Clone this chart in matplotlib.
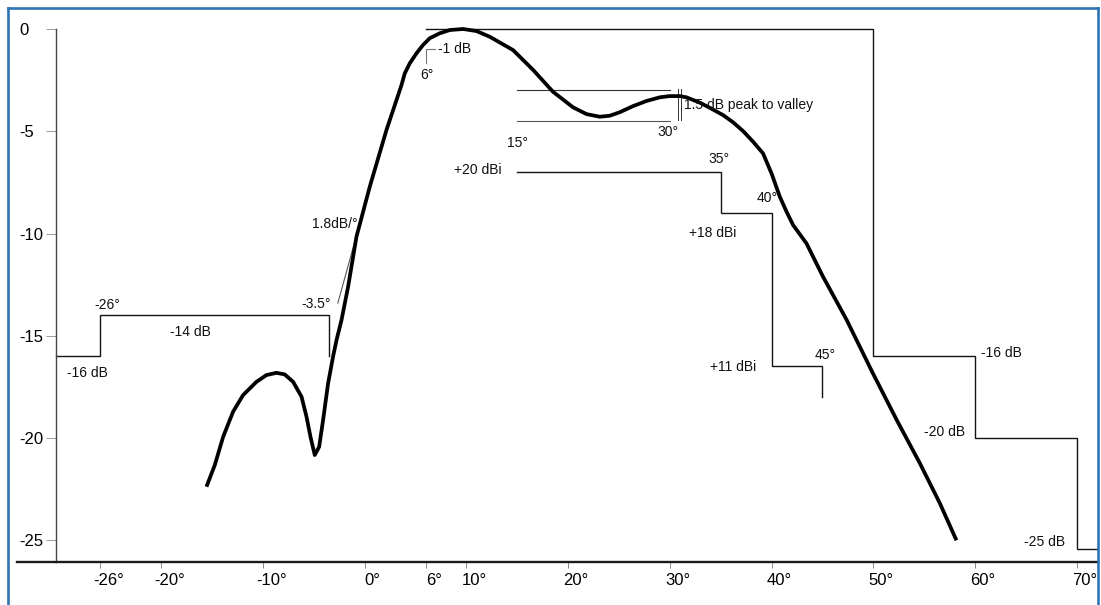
import matplotlib
matplotlib.use("Agg")
import matplotlib.pyplot as plt
from matplotlib.lines import Line2D
from matplotlib.transforms import ScaledTranslation

plt.rcParams['font.family'] = ['Liberation Sans', 'DejaVu Sans']

# ---------------- data ----------------
# main beam pattern (angle in degrees, relative gain in dB)
curve_deg = [-15.57, -14.75, -13.93, -12.95, -11.97, -10.65, -9.67, -8.68, -7.87, -7.05,
             -6.22, -5.73, -5.34, -4.92, -4.49, -4.10, -3.61, -3.12, -2.78, -2.29,
             -1.64, -0.82, 0.49, 2.13, 3.12, 3.61, 3.93, 4.42, 5.08, 5.73,
             6.39, 7.37, 8.36, 9.67, 10.98, 12.29, 14.58, 16.55, 18.51, 20.48,
             21.80, 23.11, 24.09, 25.07, 26.38, 27.70, 29.01, 29.99, 30.97, 31.63,
             32.94, 33.92, 35.23, 36.21, 37.20, 38.18, 39.16, 40.02, 40.81, 41.47,
             42.11, 43.43, 45.06, 47.39, 49.95, 52.31, 54.57, 56.54, 58.18]
curve_db = [-22.38, -21.32, -19.94, -18.71, -17.90, -17.25, -16.92, -16.81, -16.89, -17.25,
            -17.98, -18.96, -19.94, -20.83, -20.43, -19.12, -17.33, -16.02, -15.21, -14.23,
            -12.60, -10.16, -7.71, -4.94, -3.47, -2.74, -2.17, -1.68, -1.19, -0.78,
            -0.45, -0.21, -0.05, 0.0, -0.10, -0.38, -1.03, -2.00, -3.07, -3.83,
            -4.16, -4.29, -4.24, -4.07, -3.77, -3.52, -3.34, -3.28, -3.28, -3.34,
            -3.60, -3.85, -4.21, -4.56, -4.99, -5.51, -6.08, -7.09, -8.20, -8.93,
            -9.58, -10.48, -12.11, -14.23, -16.82, -19.12, -21.22, -23.18, -25.0]

# left sidelobe mask
left_mask_deg = [-30.4, -26, -26, -3.5, -3.5]
left_mask_db = [-16, -16, -14, -14, -16]

# right envelope mask
right_mask_deg = [6, 50, 50, 60, 60, 70, 70, 72.2]
right_mask_db = [0, 0, -16, -16, -20, -20, -25.4, -25.4]

# dBi step mask
dbi_mask_deg = [15, 35, 35, 40, 40, 45, 45]
dbi_mask_db = [-7, -7, -9, -9, -16.5, -16.5, -18]

# peak-to-valley reference lines
ptv_deg = [15, 30]
ptv_upper_db = -3.0
ptv_lower_db = -4.5

# slope tangent
tangent_deg = [-2.65, 1.77]
tangent_db = [-13.4, -5.43]

# axis ticks
x_ticks = [-26, -20, -10, 0, 6, 10, 20, 30, 40, 50, 60, 70]
x_tick_labels = ['-26°', '-20°', '-10°', '0°', '6°', '10°', '20°', '30°', '40°', '50°', '60°', '70°']
y_ticks = [0, -5, -10, -15, -20, -25]
y_tick_labels = ['0', '-5', '-10', '-15', '-20', '-25']

# ---------------- figure ----------------
W, H, DPI = 1101, 605, 100
fig = plt.figure(figsize=(W / DPI, H / DPI), dpi=DPI)
ax = fig.add_axes([17 / W, (H - 562) / H, (1098 - 17) / W, (562 - 8.55) / H])
XL = (-34.2, 72.1)
YL = (-26.06, 1.0)
ax.set_xlim(*XL)
ax.set_ylim(*YL)

mask_kw = dict(color='#141414', lw=1.0, solid_joinstyle='miter')
ax.plot(left_mask_deg, left_mask_db, **mask_kw)
ax.plot(right_mask_deg, right_mask_db, **mask_kw)
ax.plot(dbi_mask_deg, dbi_mask_db, **mask_kw)
ax.plot(ptv_deg, [ptv_upper_db] * 2, color='#333333', lw=0.8)
ax.plot(ptv_deg, [ptv_lower_db] * 2, color='#555555', lw=0.8)
ax.plot([30.78, 30.78], [-2.95, -4.45], color='#333333', lw=0.7)
ax.plot([31.07, 31.07], [-2.95, -4.45], color='#333333', lw=0.7)
ax.plot(tangent_deg, tangent_db, color='#555555', lw=0.8)
# -1 dB / 6 deg leader
ax.plot([6.9, 6.0, 6.0], [-1.0, -1.0, -1.65], color='#777777', lw=0.8)

ax.plot(curve_deg, curve_db, color='black', lw=2.7, solid_capstyle='butt',
        solid_joinstyle='round', zorder=5)

# annotations
fs = 10
txt = [
    (-27.24, -16.82, '-16 dB', 'center'),
    (-17.11, -14.82, '-14 dB', 'center'),
    (-25.27, -13.50, '-26°', 'center'),
    (-4.82, -13.45, '-3.5°', 'center'),
    (-2.95, -9.54, '1.8dB/°', 'center'),
    (8.85, -0.98, '-1 dB', 'center'),
    (6.10, -2.25, '6°', 'center'),
    (15.04, -5.57, '15°', 'center'),
    (29.79, -5.04, '30°', 'center'),
    (31.37, -3.72, '1.5 dB peak to valley', 'left'),
    (13.47, -6.89, '+20 dBi', 'right'),
    (34.81, -6.36, '35°', 'center'),
    (39.53, -8.26, '40°', 'center'),
    (34.22, -9.98, '+18 dBi', 'center'),
    (36.18, -16.53, '+11 dBi', 'center'),
    (45.23, -15.94, '45°', 'center'),
    (62.64, -15.84, '-16 dB', 'center'),
    (57.03, -19.71, '-20 dB', 'center'),
    (66.86, -25.09, '-25 dB', 'center'),
]
for x, y, s, ha in txt:
    ax.text(x, y, s, ha=ha, va='center', fontsize=fs, color='#111111', zorder=6)

# spines
for s in ('top', 'right'):
    ax.spines[s].set_visible(False)
ax.spines['left'].set_position(('data', -30.4))
ax.spines['left'].set_bounds(YL[0], 0)
ax.spines['left'].set_color('#444444')
ax.spines['left'].set_linewidth(1.0)
ax.spines['bottom'].set_color('#1a1a1a')
ax.spines['bottom'].set_linewidth(1.7)

ax.set_xticks(x_ticks)
ax.set_xticklabels(x_tick_labels, fontsize=12)
ax.set_yticks(y_ticks)
ax.set_yticklabels(y_tick_labels, fontsize=12, ha='left')
ax.tick_params(axis='x', direction='out', length=4, width=0.7, color='#888888', pad=4)
ax.tick_params(axis='y', direction='out', length=7.2, width=0.7, color='#999999', pad=18.7)

off = ScaledTranslation(8 / DPI, 0, fig.dpi_scale_trans)
for lab in ax.get_xticklabels():
    lab.set_transform(lab.get_transform() + off)

# blue frame (open at the bottom)
blue = '#2e75b6'
fr = dict(color=blue, lw=1.9, transform=fig.transFigure)
fig.add_artist(Line2D([8 / W, 1098 / W], [1 - 8 / H, 1 - 8 / H], **fr))
fig.add_artist(Line2D([8 / W, 8 / W], [1 - 8 / H, 0], **fr))
fig.add_artist(Line2D([1098 / W, 1098 / W], [1 - 8 / H, 0], **fr))

fig.savefig('out.png', dpi=DPI)
